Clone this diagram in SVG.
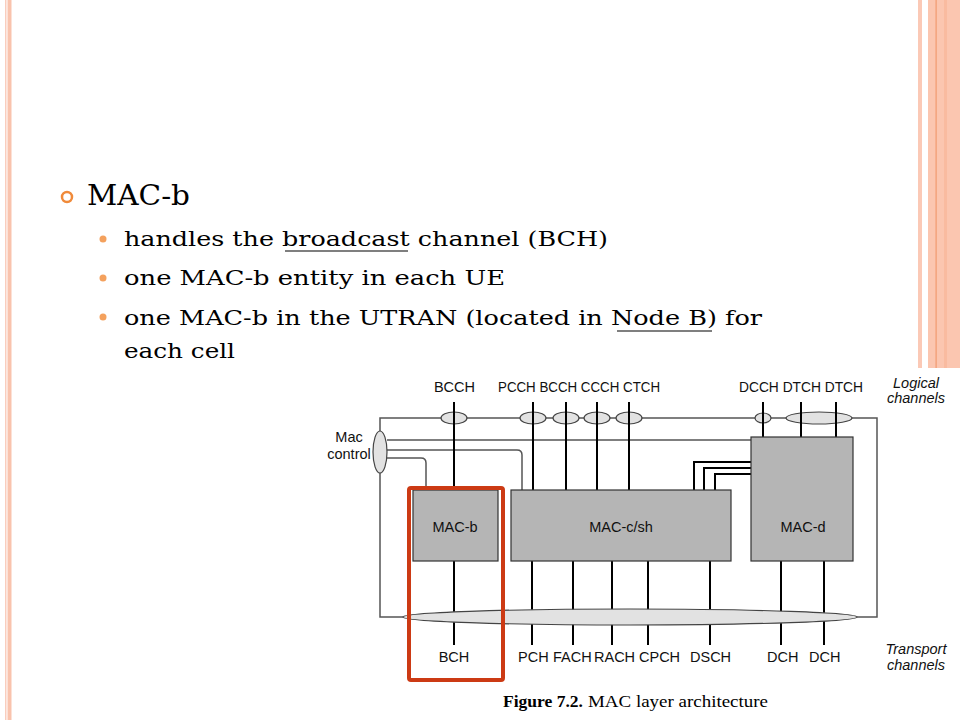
<svg xmlns="http://www.w3.org/2000/svg" width="960" height="720" viewBox="0 0 960 720">
<style>
.slide{font-family:"DejaVu Serif","Liberation Serif",serif;fill:#000}
.cap{font-family:"Liberation Serif","Times New Roman",serif;fill:#000}
.lbl{font-family:"Liberation Sans",Arial,sans-serif;font-size:14.5px;fill:#111}
.it{font-family:"Liberation Sans",Arial,sans-serif;font-size:14.5px;font-style:italic;fill:#111}
.box{fill:#b5b5b5;stroke:#333;stroke-width:1.2}
.frame{fill:none;stroke:#555;stroke-width:1.5}
.ch{fill:none;stroke:#000;stroke-width:2}
.ell{fill:#e2e2e2;stroke:#444;stroke-width:1.2}
</style>
<rect width="960" height="720" fill="#fff"/>
<g id="decor">
<rect x="5" y="0" width="1.5" height="720" fill="#f9cdbd"/>
<rect x="7.5" y="0" width="4" height="720" fill="#f9c3ad"/>
<rect x="918" y="0" width="4" height="368" fill="#fbc9b6"/>
<rect x="928" y="0" width="32" height="368" fill="#fbc6b0"/>
<rect x="935.5" y="0" width="1.2" height="368" fill="#f19a70"/>
<rect x="944" y="0" width="3" height="368" fill="#f9bba0"/>
</g>
<g id="bullets">
<circle cx="67" cy="197" r="5" fill="none" stroke="#f08a3a" stroke-width="2.5"/>
<text class="slide" x="87" y="205" font-size="28" textLength="103" lengthAdjust="spacingAndGlyphs">MAC-b</text>
<circle cx="103" cy="239" r="3.5" fill="#f4a15d"/>
<circle cx="103" cy="278" r="3.5" fill="#f4a15d"/>
<circle cx="103" cy="317" r="3.5" fill="#f4a15d"/>
<text class="slide" x="124" y="246" font-size="20.5" textLength="484" lengthAdjust="spacingAndGlyphs">handles the broadcast channel (BCH)</text>
<line x1="285" y1="251" x2="408" y2="251" stroke="#000" stroke-width="1.2"/>
<text class="slide" x="124" y="285" font-size="20.5" textLength="381" lengthAdjust="spacingAndGlyphs">one MAC-b entity in each UE</text>
<text class="slide" x="124" y="325" font-size="20.5" textLength="638" lengthAdjust="spacingAndGlyphs">one MAC-b in the UTRAN (located in Node B) for</text>
<line x1="617" y1="331" x2="712" y2="331" stroke="#000" stroke-width="1.2"/>
<text class="slide" x="124" y="358" font-size="20.5" textLength="111" lengthAdjust="spacingAndGlyphs">each cell</text>
</g>
<rect x="310" y="368" width="650" height="352" fill="#fff"/>
<g id="connectors">
<path class="frame" d="M403,617 H380 V418 H877 V617 H857"/>
<path class="frame" d="M387,440 H751"/>
<path class="frame" d="M387,450 H517 Q522,450 522,455 V490"/>
<path class="frame" d="M387,458 H421 Q426,458 426,463 V490"/>
<ellipse class="ell" cx="454" cy="418" rx="13" ry="6"/>
<ellipse class="ell" cx="533" cy="418" rx="13" ry="6"/>
<ellipse class="ell" cx="566" cy="418" rx="13" ry="6"/>
<ellipse class="ell" cx="597" cy="418" rx="13" ry="6"/>
<ellipse class="ell" cx="629" cy="418" rx="13" ry="6"/>
<ellipse class="ell" cx="763" cy="418" rx="8" ry="5"/>
<ellipse class="ell" cx="819" cy="418" rx="33" ry="6"/>
<path class="ch" d="M454,402 V490 M533,402 V490 M566,402 V490 M597,402 V490 M629,402 V490 M763,402 V437 M801,402 V437 M836,402 V437"/>
<path class="ch" d="M751,462 H694 V490 M751,468 H704 V490 M751,474 H715 V490"/>
<path class="ch" d="M454,561 V645 M532,561 V645 M573,561 V645 M612,561 V645 M648,561 V645 M710,561 V645 M781,561 V645 M824,561 V645"/>
<ellipse class="ell" cx="630" cy="617" rx="227" ry="8"/>
<ellipse class="ell" cx="380" cy="452" rx="7" ry="21"/>
</g>
<g id="mac-b">
<rect class="box" x="413" y="490" width="85" height="71"/>
<text class="lbl" x="455" y="532" text-anchor="middle">MAC-b</text>
</g>
<g id="mac-csh">
<rect class="box" x="511" y="490" width="220" height="71"/>
<text class="lbl" x="621" y="532" text-anchor="middle">MAC-c/sh</text>
</g>
<g id="mac-d">
<rect class="box" x="751" y="437" width="102" height="124"/>
<text class="lbl" x="803" y="532" text-anchor="middle">MAC-d</text>
</g>
<g id="labels">
<text class="lbl" x="454.5" y="392" text-anchor="middle">BCCH</text>
<text class="lbl" x="498" y="392" textLength="162" lengthAdjust="spacingAndGlyphs">PCCH BCCH CCCH CTCH</text>
<text class="lbl" x="739" y="392" textLength="124" lengthAdjust="spacingAndGlyphs">DCCH DTCH DTCH</text>
<text class="it" x="916" y="388" text-anchor="middle">Logical</text>
<text class="it" x="916" y="403" text-anchor="middle">channels</text>
<text class="lbl" x="349" y="442" text-anchor="middle">Mac</text>
<text class="lbl" x="349" y="459" text-anchor="middle">control</text>
<text class="lbl" x="454" y="662" text-anchor="middle">BCH</text>
<text class="lbl" x="518" y="662">PCH</text>
<text class="lbl" x="553" y="662">FACH</text>
<text class="lbl" x="594" y="662">RACH</text>
<text class="lbl" x="639" y="662">CPCH</text>
<text class="lbl" x="690" y="662">DSCH</text>
<text class="lbl" x="767" y="662">DCH</text>
<text class="lbl" x="809" y="662">DCH</text>
<text class="it" x="916" y="654" text-anchor="middle">Transport</text>
<text class="it" x="916" y="670" text-anchor="middle">channels</text>
<text class="cap" x="503" y="707" font-size="17" font-weight="bold" textLength="80" lengthAdjust="spacingAndGlyphs">Figure 7.2.</text>
<text class="cap" x="588" y="707" font-size="17" textLength="180" lengthAdjust="spacingAndGlyphs">MAC layer architecture</text>
</g>
<g id="highlight">
<rect x="409" y="488" width="94" height="192" rx="2" fill="none" stroke="#cc3a14" stroke-width="4"/>
</g>
</svg>
